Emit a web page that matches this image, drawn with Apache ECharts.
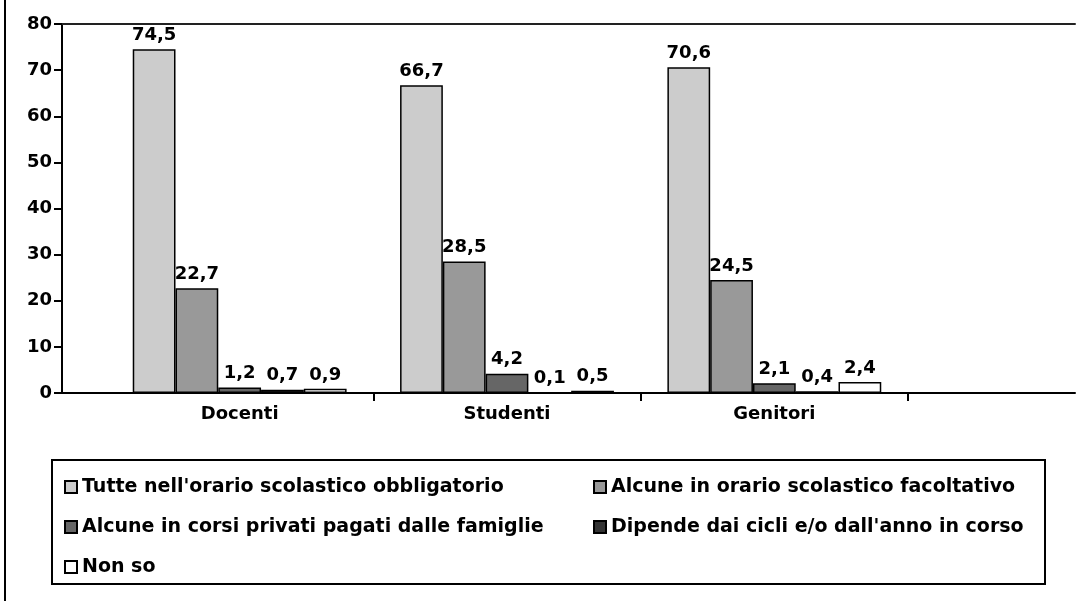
<!DOCTYPE html>
<html>
<head>
<meta charset="utf-8">
<script src="https://cdn.jsdelivr.net/npm/echarts@6/dist/echarts.min.js"></script>
<style>
  html, body { margin: 0; padding: 0; background: #fff; }
  #wrap { position: relative; width: 1086px; height: 601px; }
  #chart { width: 1086px; height: 601px; }
  #edge { position: absolute; left: 4px; top: 0; width: 2px; height: 601px; background: #000; }
</style>
</head>
<body>
<div id="wrap">
  <div id="chart"></div>
  <div id="edge"></div>
</div>
<script>
// Respondent groups
const categories = ['Docenti', 'Studenti', 'Genitori'];

// Answer shares (%) per group
const tutteObbligatorio = [74.5, 66.7, 70.6];
const alcuneFacoltativo = [22.7, 28.5, 24.5];
const alcuneCorsiPrivati = [1.2, 4.2, 2.1];
const dipendeCicli = [0.7, 0.1, 0.4];
const nonSo = [0.9, 0.5, 2.4];

const seriesNames = [
  "Tutte nell'orario scolastico obbligatorio",
  'Alcune in orario scolastico facoltativo',
  'Alcune in corsi privati pagati dalle famiglie',
  "Dipende dai cicli e/o dall'anno in corso",
  'Non so'
];
const seriesValues = [tutteObbligatorio, alcuneFacoltativo, alcuneCorsiPrivati, dipendeCicli, nonSo];
const seriesColors = ['#cccccc', '#999999', '#666666', '#333333', '#ffffff'];

// Value axis ticks
const yMin = 0, yMax = 80, yStep = 10;

const FONT = 'DejaVu Sans';
const chart = echarts.init(document.getElementById('chart'));

const plotTop = 24, plotBottom = 208;

const option = {
  animation: false,
  backgroundColor: '#fff',
  textStyle: { fontFamily: FONT },
  grid: [
    // frame: value axis, top rule and base line
    { left: 62, right: 11, top: plotTop, bottom: plotBottom },
    // bars
    { left: 106, right: 178, top: plotTop, bottom: plotBottom }
  ],
  xAxis: [
    {
      gridIndex: 0, type: 'value', min: 0, max: 1, position: 'bottom',
      axisLine: { show: true, lineStyle: { color: '#000', width: 2 } },
      axisTick: { show: false }, axisLabel: { show: false }, splitLine: { show: false }
    },
    {
      gridIndex: 0, type: 'value', min: 0, max: 1, position: 'top',
      axisLine: { show: true, lineStyle: { color: '#222', width: 2 } },
      axisTick: { show: false }, axisLabel: { show: false }, splitLine: { show: false }
    },
    {
      gridIndex: 1, type: 'category', data: categories,
      axisLine: { show: false },
      axisTick: {
        show: true, inside: false, length: 8,
        lineStyle: { color: '#000', width: 2 },
        interval: function (index) { return index > 0; }
      },
      axisLabel: {
        color: '#000', fontFamily: FONT, fontWeight: 'bold', fontSize: 18, margin: 12
      }
    }
  ],
  yAxis: [
    {
      gridIndex: 0, type: 'value', min: yMin, max: yMax, interval: yStep,
      axisLine: { show: true, lineStyle: { color: '#000', width: 2 } },
      axisTick: { show: true, inside: false, length: 8, lineStyle: { color: '#000', width: 2 } },
      axisLabel: { color: '#000', fontFamily: FONT, fontWeight: 'bold', fontSize: 18, margin: 10 },
      splitLine: { show: false }
    },
    {
      gridIndex: 1, type: 'value', min: yMin, max: yMax, interval: yStep, show: false
    }
  ],
  legend: {
    left: 52, top: 460,
    width: 980,
    orient: 'horizontal',
    padding: [16, 8, 6, 12],
    itemGap: 18,
    itemWidth: 12, itemHeight: 12,
    icon: 'rect',
    borderColor: '#000', borderWidth: 2,
    textStyle: { color: '#000', fontFamily: FONT, fontWeight: 'bold', fontSize: 19, lineHeight: 22, width: 493, overflow: 'none' },
    data: seriesNames.map(function (n, i) {
      return i % 2 === 1 ? { name: n, textStyle: { width: 426 } } : { name: n };
    })
  },
  series: seriesNames.map(function (name, i) {
    return {
      name: name,
      type: 'bar',
      xAxisIndex: 2,
      yAxisIndex: 1,
      data: seriesValues[i],
      barGap: '0%',
      barCategoryGap: '20%',
      itemStyle: { color: seriesColors[i], borderColor: '#000', borderWidth: 1.5 },
      label: {
        show: true, position: 'top', distance: 5,
        color: '#000', fontFamily: FONT, fontWeight: 'bold', fontSize: 18,
        formatter: function (p) { return String(p.value).replace('.', ','); }
      }
    };
  })
};

chart.setOption(option);
</script>
</body>
</html>
